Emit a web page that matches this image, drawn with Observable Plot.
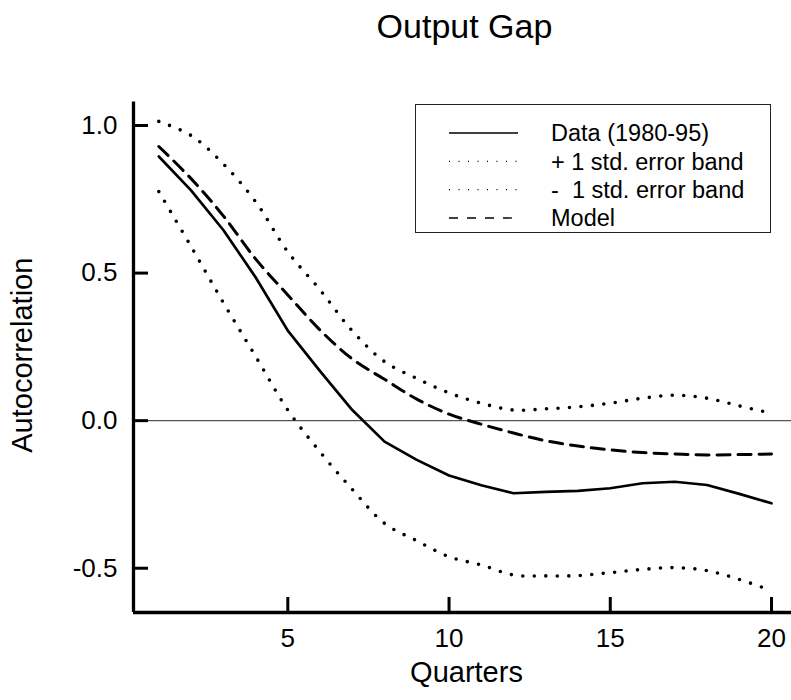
<!DOCTYPE html>
<html><head><meta charset="utf-8">
<script src="https://cdn.jsdelivr.net/npm/d3@7"></script>
<script src="https://cdn.jsdelivr.net/npm/@observablehq/plot@0.6"></script>
<style>
body{margin:0;background:#fff;font-family:"Liberation Sans",Arial,sans-serif;}
#wrap{position:relative;width:791px;height:700px;}
#legend{position:absolute;left:415px;top:104px;width:356px;height:129px;border:1.3px solid #222;box-sizing:border-box;background:#fff;}
#legend svg{position:absolute;left:0;top:0;}
</style></head><body><div id="wrap"><div id="legend"></div></div>
<script>
const quarters = [1,2,3,4,5,6,7,8,9,10,11,12,13,14,15,16,17,18,19,20];
const dataAC = [0.895,0.78,0.646,0.486,0.305,0.168,0.036,-0.071,-0.133,-0.186,-0.219,-0.246,-0.241,-0.238,-0.229,-0.212,-0.207,-0.218,-0.248,-0.28];
const upperBand = [1.014,0.966,0.87,0.742,0.572,0.443,0.304,0.2,0.143,0.094,0.059,0.036,0.04,0.047,0.059,0.076,0.086,0.076,0.05,0.025];
const lowerBand = [0.776,0.59,0.40,0.218,0.036,-0.106,-0.233,-0.348,-0.407,-0.461,-0.489,-0.523,-0.526,-0.525,-0.515,-0.504,-0.498,-0.508,-0.538,-0.576];
const modelAC = [0.929,0.82,0.694,0.548,0.426,0.307,0.209,0.14,0.073,0.022,-0.012,-0.042,-0.068,-0.086,-0.099,-0.108,-0.113,-0.116,-0.115,-0.113];
const xTicks = [5,10,15,20];
const yTicks = [-0.5,0,0.5,1];
const yTickLabels = ["-0.5","0.0","0.5","1.0"];
const xDomain = [0.215,20.62];
const yDomain = [-0.65,1.08];
const titleText = "Output Gap";
const xLabel = "Quarters";
const yLabel = "Autocorrelation";
const seriesNames = ["Data (1980-95)","+ 1 std. error band","-  1 std. error band","Model"];

const rows = quarters.map((q,i)=>({q, data:dataAC[i], up:upperBand[i], lo:lowerBand[i], model:modelAC[i]}));
const W = 791, H = 700, mL = 133, mR = 0, mT = 101.4, mB = 88;
const fw = W - mL - mR, fh = H - mT - mB;
const font = '"Liberation Sans", Arial, sans-serif';
const dotted = {stroke:"#000", strokeWidth:3.6, strokeDasharray:"0,11.5", strokeLinecap:"round", curve:"catmull-rom"};

const plot = Plot.plot({
  width: W, height: H, marginLeft: mL, marginRight: mR, marginTop: mT, marginBottom: mB,
  style: {fontFamily: font, background: "transparent", color: "#000"},
  x: {domain: xDomain},
  y: {domain: yDomain},
  marks: [
    Plot.ruleY([0], {stroke:"#555", strokeWidth:1.3}),
    Plot.line(rows, {x:"q", y:"up", ...dotted}),
    Plot.line(rows, {x:"q", y:"lo", ...dotted}),
    Plot.line(rows, {x:"q", y:"model", stroke:"#000", strokeWidth:3, strokeDasharray:"13,8", curve:"catmull-rom"}),
    Plot.line(rows, {x:"q", y:"data", stroke:"#000", strokeWidth:2.7}),
    Plot.ruleX(xTicks, {stroke:"#000", strokeWidth:3, insetTop: fh - 15}),
    Plot.ruleY(yTicks, {stroke:"#000", strokeWidth:3, insetRight: fw - 15}),
    Plot.ruleX([xDomain[0]], {stroke:"#000", strokeWidth:3.3}),
    Plot.ruleY([yDomain[0]], {stroke:"#000", strokeWidth:3.3}),
    Plot.axisX(xTicks, {tickSize:0, tickPadding:16, fontSize:26, label:null}),
    Plot.axisY(yTicks, {tickSize:0, tickPadding:16, fontSize:26, label:null, tickFormat: d => yTickLabels[yTicks.indexOf(d)]}),
    Plot.text([titleText], {frameAnchor:"top", lineAnchor:"middle", dy:-75, dx:2, fontSize:34, fill:"#000"}),
    Plot.text([xLabel], {frameAnchor:"bottom", lineAnchor:"middle", dy:60, dx:4, fontSize:29, fill:"#000"}),
    Plot.text([yLabel], {frameAnchor:"left", textAnchor:"middle", lineAnchor:"middle", dx:-111, dy:-2, rotate:-90, fontSize:29, fill:"#000"})
  ]
});
document.getElementById("wrap").prepend(plot);

// legend
const lg = d3.select("#legend").append("svg").attr("width",356).attr("height",129);
const rowY = [28, 56.3, 84.6, 113];
const styles = [
  {w:1.3, dash:null},
  {w:1.2, dash:"1,8.5"},
  {w:1.2, dash:"1,8.5"},
  {w:1.3, dash:"9,9"}
];
seriesNames.forEach((name,i)=>{
  const l = lg.append("line").attr("x1",33).attr("x2",102).attr("y1",rowY[i]).attr("y2",rowY[i])
    .attr("stroke","#000").attr("stroke-width",styles[i].w);
  if (styles[i].dash) l.attr("stroke-dasharray",styles[i].dash);
  lg.append("text").attr("x",135).attr("y",rowY[i]).attr("dy","0.35em")
    .attr("font-family",font).attr("font-size",23.5).attr("fill","#000")
    .style("white-space","pre").text(name);
});
</script></body></html>
